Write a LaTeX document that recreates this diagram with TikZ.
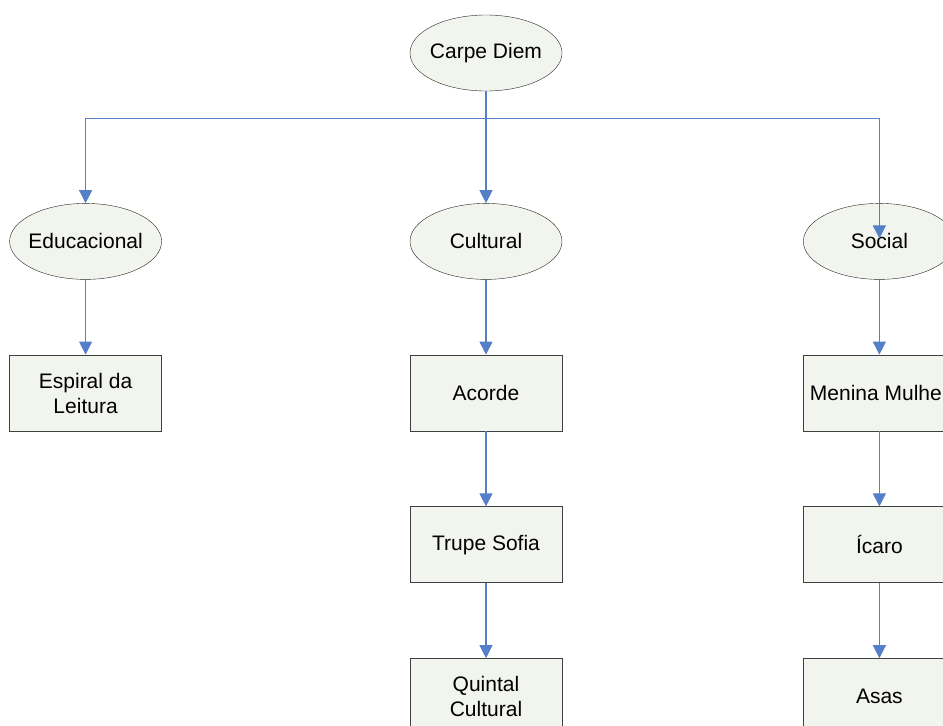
\documentclass[tikz,border=0pt]{standalone}
\usepackage{fontspec}
\setmainfont{Liberation Sans}
\usetikzlibrary{shapes}
\usetikzlibrary{arrows.meta}
\usetikzlibrary{positioning}
\usetikzlibrary{calc}

\definecolor{linkblue}{RGB}{84,128,200}
\definecolor{nodefill}{RGB}{242,244,238}

\begin{document}
\begin{tikzpicture}[x=1pt,y=1pt,node distance=75pt,>={Triangle[width=13pt,length=13pt]},
    every node/.append style={align=center,font=\fontsize{21}{25}\selectfont},
    area/.style={draw=black!85, ellipse, fill=nodefill, minimum width=152pt, minimum height=76pt, inner xsep=-6pt, inner ysep=0pt},
    proj/.style={draw=black!75, line width=0.8pt, rectangle, fill=nodefill, minimum width=152pt, minimum height=76pt, inner sep=0pt},
    link/.style={draw=linkblue, line width=1.1pt}]
        \useasboundingbox (0,0) rectangle (943,-726);
        \clip (0,0) rectangle (943,-726);

        \node [area] (CD) at (486,-53) {Carpe Diem};
        \node [area, below=112pt of CD] (Cul) {Cultural};
        \node [area, left=248pt of Cul] (Edu) {Educacional};
        \node [area, right=241pt of Cul] (Soc) {Social};

        \node [proj, below=of Edu] (Esp) {Espiral da\\Leitura};
        \node [proj, below=of Cul] (Aco) {Acorde};
        \node [proj, below=of Aco] (Tru) {Trupe Sofia};
        \node [proj, below=of Tru] (Qui) {Quintal\\Cultural};
        \node [proj, below=of Soc] (Men) {Menina Mulher};
        \node [proj, below=of Men] (Ica) {Ícaro};
        \node [proj, below=of Ica] (Asa) {Asas};

        \coordinate (bus) at ($(CD.south)+(0,-27)$);
        \coordinate (SocTip) at ($(Soc.center)+(0,3)$);

        \draw[link] (CD.south) -- (bus);
        \draw[link,->] (bus) -| (Edu.north);
        \draw[link,->] (bus) -- (Cul.north);
        \draw[link,->] (bus) -| (SocTip);

        \draw[link,->] (Edu) -- (Esp);
        \draw[link,->] (Cul) -- (Aco);
        \draw[link,->] (Aco) -- (Tru);
        \draw[link,->] (Tru) -- (Qui);
        \draw[link,->] (Soc) -- (Men);
        \draw[link,->] (Men) -- (Ica);
        \draw[link,->] (Ica) -- (Asa);
    \end{tikzpicture}
\end{document}
